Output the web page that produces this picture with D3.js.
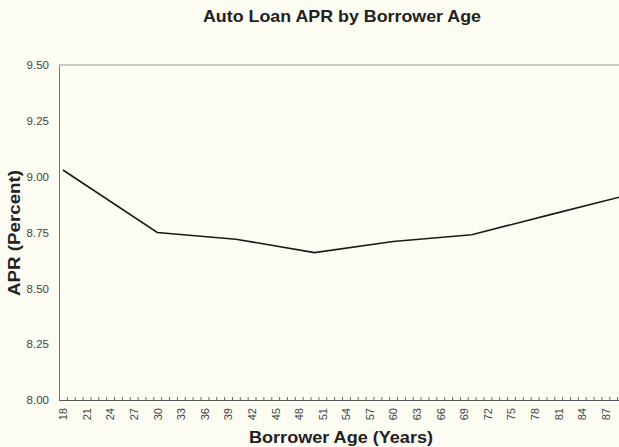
<!DOCTYPE html>
<html>
<head>
<meta charset="utf-8">
<script src="https://cdn.jsdelivr.net/npm/d3@7"></script>
<style>
  body { margin: 0; background: #fdfcf3; }
  svg { display: block; font-family: "Liberation Sans", Arial, sans-serif; }
</style>
</head>
<body>
<script>
// chart data
const ages = [18, 30, 40, 50, 60, 70, 80, 89];
const apr = [9.03, 8.75, 8.72, 8.66, 8.71, 8.74, 8.83, 8.91];
const yTicks = [8.00, 8.25, 8.50, 8.75, 9.00, 9.25, 9.50];
const xLabels = d3.range(18, 89, 3);
const xMinorTicks = d3.range(17.5, 90, 1);

const width = 619;
const height = 447;
const margin = { top: 65, bottom: 47, left: 59, right: -6 };
const font = '"Liberation Sans", Arial, sans-serif';

const svg = d3.select('body').append('svg')
  .attr('width', width)
  .attr('height', height);

const x = d3.scaleLinear().domain([17.5, 89.5]).range([margin.left, width - margin.right]);
const y = d3.scaleLinear().domain([8, 9.5]).range([height - margin.bottom, margin.top]);

// title
svg.append('text')
  .attr('x', 342).attr('y', 22)
  .attr('text-anchor', 'middle')
  .attr('textLength', 278).attr('lengthAdjust', 'spacingAndGlyphs')
  .style('font-size', '17px').style('font-weight', 'bold').style('fill', '#222')
  .text('Auto Loan APR by Borrower Age');

// frame: top border
svg.append('line')
  .attr('x1', margin.left).attr('x2', width)
  .attr('y1', y(9.5)).attr('y2', y(9.5))
  .attr('stroke', '#999').attr('stroke-width', 1);

// y axis
const yAxis = d3.axisLeft(y).tickValues(yTicks).tickFormat(d3.format('.2f')).tickSize(0).tickPadding(10);
const gy = svg.append('g').attr('transform', `translate(${margin.left},0)`).call(yAxis);
gy.select('.domain').attr('stroke', '#777');
gy.selectAll('text').style('font-size', '11.5px').style('fill', '#444').style('font-family', font);

// x axis with minor ticks every year
const gx = svg.append('g').attr('transform', `translate(0,${y(8)})`);
gx.call(d3.axisBottom(x).tickValues(xMinorTicks).tickSize(-3).tickFormat(''));
gx.select('.domain').attr('stroke', '#555');
gx.selectAll('.tick line').attr('stroke', '#666');

const gxl = svg.append('g').attr('transform', `translate(0,${y(8)})`);
gxl.call(d3.axisBottom(x).tickValues(xLabels).tickSize(0).tickFormat(d3.format('d')));
gxl.select('.domain').remove();
gxl.selectAll('text')
  .attr('transform', 'rotate(-90)')
  .attr('text-anchor', 'end')
  .attr('x', -8).attr('y', 0).attr('dy', '0.35em')
  .style('font-size', '11px').style('fill', '#444').style('font-family', font);

// axis titles
svg.append('text')
  .attr('transform', `translate(20,233) rotate(-90)`)
  .attr('text-anchor', 'middle')
  .attr('textLength', 126).attr('lengthAdjust', 'spacingAndGlyphs')
  .style('font-size', '17px').style('font-weight', 'bold').style('fill', '#222')
  .text('APR (Percent)');

svg.append('text')
  .attr('x', 341).attr('y', 443)
  .attr('text-anchor', 'middle')
  .attr('textLength', 184).attr('lengthAdjust', 'spacingAndGlyphs')
  .style('font-size', '17px').style('font-weight', 'bold').style('fill', '#222')
  .text('Borrower Age (Years)');

// line
const points = ages.map((a, i) => [a, apr[i]]);
svg.append('path')
  .datum(points)
  .attr('fill', 'none')
  .attr('stroke', '#1a1a1a')
  .attr('stroke-width', 1.6)
  .attr('d', d3.line().x(d => x(d[0])).y(d => y(d[1])));
</script>
</body>
</html>
